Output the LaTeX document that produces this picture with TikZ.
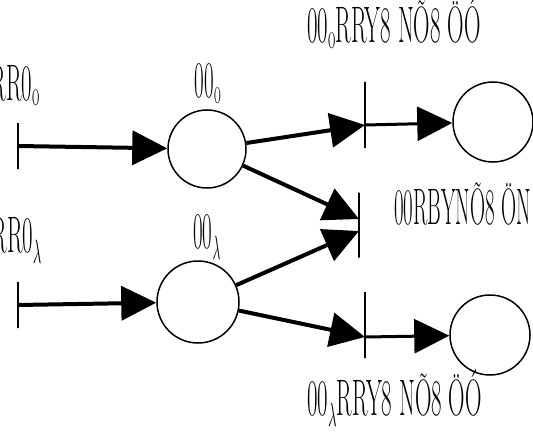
\documentclass[tikz,border=0pt]{standalone}
\usepackage{tikz}
\usetikzlibrary{positioning,arrows.meta}
\usepackage{graphicx}
\newcommand{\squeeze}[2][0.6]{\scalebox{#1}[1.35]{#2}}

\begin{document}
\begin{tikzpicture}[x=1pt,y=-1pt,
  unit/.style={draw,circle,line width=1.5pt,minimum size=80pt,inner sep=0pt},
  tk/.style={draw,line width=1.8pt,minimum height=46pt,minimum width=0pt,inner sep=0pt},
  a/.style={-{Triangle[length=35pt,width=34pt]},line width=4pt},
  b/.style={a,line width=3pt},
  lab/.style={font=\fontsize{38}{40}\selectfont,inner sep=0pt}]
\useasboundingbox (0,0) rectangle (533,436);
% inputs
\node[tk] (i0) at (18,146) {};
\node[tk] (i1) at (18,305) {};
\node[lab,anchor=base east] (li0) at (40,100) {\squeeze{RR0\textsubscript{o}}};
\node[lab,anchor=base east] (li1) at (42,252) {\squeeze{RR0$_\lambda$}};
% hidden units
\node[unit,minimum size=78pt] (h0) at (207,149) {};
\node[unit,minimum size=82pt] (h1) at (198,302) {};
\node[lab,anchor=base] (lh0) at (208,98) {\squeeze[0.55]{00\textsubscript{o}}};
\node[lab,anchor=base] (lh1) at (207,248) {\squeeze[0.55]{00$_\lambda$}};
% ticks on the right
\coordinate (j0) at (365,125);
\coordinate (j1) at (365,337);
\node[tk,minimum height=66pt] (s0) at (365,115) {};
\node[tk,minimum height=66pt] (s1) at (365,325) {};
\node[tk,minimum height=65pt] (sm) at (359,225) {};
% outputs
\node[unit] (o0) at (493,122) {};
\node[unit] (o1) at (490,335) {};
\node[lab,anchor=base west] (l0) at (307,43) {\squeeze{00\textsubscript{o}RRY8 NÕ8 ÖÓ}};
\node[lab,anchor=base west] (lm) at (394,224) {\squeeze[0.55]{00RBYNÕ8 ÖN}};
\node[lab,anchor=base west] (l1) at (307,415) {\squeeze{00$_\lambda$RRY8 NÕ8 ÖÓ}};
% connections
\draw[a] (i0.center) -- (h0);
\draw[a] (i1.center) -- (h1);
\draw[a] (h0) -- (j0);
\draw[a] (h0) -- ([yshift=6pt]sm.center);
\draw[a] (h1) -- ([yshift=-6pt]sm.center);
\draw[a] (h1) -- (j1);
\draw[b] (j0) -- (o0);
\draw[b] (j1) -- (o1);
\end{tikzpicture}
\end{document}
